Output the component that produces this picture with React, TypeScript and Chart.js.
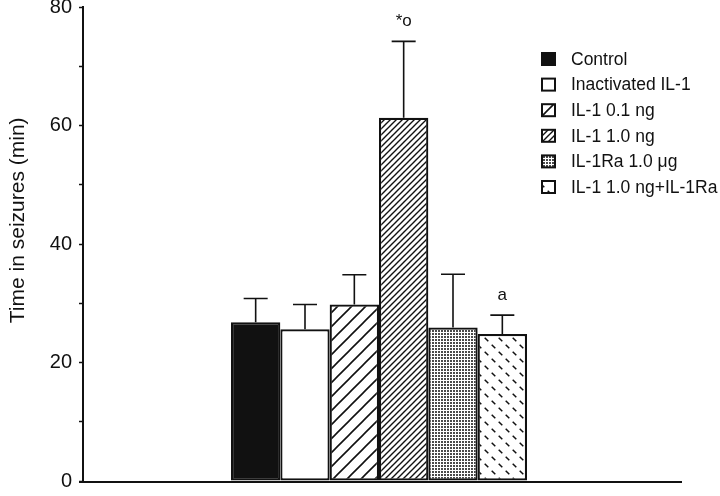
import React, { useEffect, useRef } from 'react';
import { Chart, registerables } from 'chart.js';

Chart.register(...registerables);

const categories = [''];
const seriesLabels = [
  'Control',
  'Inactivated IL-1',
  'IL-1 0.1 ng',
  'IL-1 1.0 ng',
  'IL-1Ra 1.0 \u03BCg',
  'IL-1 1.0 ng+IL-1Ra',
];
const seriesValues = [26.8, 25.6, 29.8, 61.3, 25.9, 24.8];
const seriesErrors = [4.0, 4.2, 5.0, 12.9, 9.0, 3.2];
const seriesMarks = ['', '', '', '*o', '', 'a'];
const seriesFills = ['solid', 'white', 'diagWide', 'diagDense', 'grid', 'dashes'];
const yMin = 0;
const yMax = 80;
const yStep = 10;
const yLabelStep = 20;
const yTitle = 'Time in seizures (min)';

const FONT = "'Liberation Sans', Arial, Helvetica, sans-serif";
const INK = '#111';

function makeFill(kind: string): string | CanvasPattern {
  if (kind === 'solid') return INK;
  if (kind === 'white') return '#ffffff';
  const c = document.createElement('canvas');
  let s = 10;
  if (kind === 'diagWide') s = 14;
  if (kind === 'diagDense') s = 6;
  if (kind === 'grid') s = 3;
  if (kind === 'dashes') s = 14;
  c.width = s;
  c.height = s;
  const g = c.getContext('2d')!;
  g.fillStyle = '#fff';
  g.fillRect(0, 0, s, s);
  g.strokeStyle = INK;
  g.fillStyle = INK;
  if (kind === 'diagWide' || kind === 'diagDense') {
    g.lineWidth = kind === 'diagWide' ? 1.6 : 1.4;
    g.beginPath();
    for (const o of [-s, 0, s]) {
      g.moveTo(o - 1, s + 1);
      g.lineTo(o + s + 1, -1);
    }
    g.stroke();
  } else if (kind === 'grid') {
    g.fillStyle = '#4a4a4a';
    g.fillRect(0, 0, 2, 2);
  } else if (kind === 'dashes') {
    g.lineWidth = 1.5;
    g.beginPath();
    const centers = [
      [3.5, 10.5],
      [10.5, 3.5],
    ];
    for (const [cx, cy] of centers) {
      g.moveTo(cx - 1.8, cy - 1.8);
      g.lineTo(cx + 1.8, cy + 1.8);
    }
    g.stroke();
  }
  return g.createPattern(c, 'repeat')!;
}

const overlayPlugin = {
  id: 'overlay',
  afterDatasetsDraw(chart: any) {
    const ctx = chart.ctx as CanvasRenderingContext2D;
    const y = chart.scales.y;
    const area = chart.chartArea;
    ctx.save();
    // baseline (x axis), running a little past the plot on the right as in the figure
    ctx.strokeStyle = INK;
    ctx.lineWidth = 2;
    ctx.beginPath();
    ctx.moveTo(area.left - 4, area.bottom + 1);
    ctx.lineTo(area.right + 7, area.bottom + 1);
    ctx.stroke();
    chart.data.datasets.forEach((ds: any, i: number) => {
      const meta = chart.getDatasetMeta(i);
      const bar = meta.data[0];
      if (!bar) return;
      const v = seriesValues[i];
      const e = seriesErrors[i];
      const top = y.getPixelForValue(v);
      const cap = y.getPixelForValue(v + e);
      ctx.strokeStyle = INK;
      ctx.lineWidth = 1.6;
      ctx.beginPath();
      ctx.moveTo(bar.x, top);
      ctx.lineTo(bar.x, cap);
      ctx.moveTo(bar.x - 12, cap);
      ctx.lineTo(bar.x + 12, cap);
      ctx.stroke();
      const mark = seriesMarks[i];
      if (mark) {
        ctx.fillStyle = INK;
        ctx.font = `17px ${FONT}`;
        ctx.textAlign = 'center';
        ctx.textBaseline = 'alphabetic';
        ctx.fillText(mark, bar.x, cap - 15);
      }
    });
    ctx.restore();
  },
  afterDraw(chart: any) {
    const ctx = chart.ctx as CanvasRenderingContext2D;
    const area = chart.chartArea;
    ctx.save();
    ctx.fillStyle = INK;
    ctx.font = `21px ${FONT}`;
    ctx.textAlign = 'center';
    ctx.textBaseline = 'middle';
    ctx.translate(18, area.top + (area.bottom - area.top) * 0.45);
    ctx.rotate(-Math.PI / 2);
    ctx.fillText(yTitle, 0, 0);
    ctx.restore();

    ctx.save();
    const boxX = 542;
    const firstY = area.top + 52;
    const rowH = 25.6;
    chart.data.datasets.forEach((ds: any, i: number) => {
      const cy = firstY + i * rowH;
      ctx.fillStyle = ds.backgroundColor;
      ctx.fillRect(boxX, cy - 6, 13, 12);
      ctx.strokeStyle = INK;
      ctx.lineWidth = 2;
      ctx.strokeRect(boxX, cy - 6, 13, 12);
      ctx.fillStyle = INK;
      ctx.font = `17.5px ${FONT}`;
      ctx.textAlign = 'left';
      ctx.textBaseline = 'middle';
      ctx.fillText(ds.label, boxX + 29, cy + 1);
    });
    ctx.restore();
  },
};

export default function App() {
  const ref = useRef<HTMLCanvasElement | null>(null);
  useEffect(() => {
    document.body.style.margin = '0';
    const canvas = ref.current;
    if (!canvas) return;
    const datasets = seriesLabels.map((label, i) => ({
      label,
      data: [seriesValues[i]],
      backgroundColor: makeFill(seriesFills[i]) as any,
      borderColor: INK,
      borderWidth: 2.2,
      borderSkipped: false as any,
      categoryPercentage: 0.5,
      barPercentage: 1.0,
    }));
    const chart = new Chart(canvas, {
      type: 'bar',
      data: { labels: categories, datasets },
      options: {
        responsive: false,
        animation: false,
        layout: { padding: { top: 7, right: 45, left: 0, bottom: 0 } },
        plugins: {
          legend: { display: false },
          tooltip: { enabled: false },
        },
        scales: {
          x: {
            grid: { display: false, drawTicks: false },
            ticks: { display: false },
            border: { display: false },
            afterFit: (s: any) => {
              s.height = 15;
              s.paddingLeft = 0;
              s.paddingRight = 0;
            },
          },
          y: {
            min: yMin,
            max: yMax,
            grid: {
              drawOnChartArea: false,
              drawTicks: true,
              tickLength: 4,
              tickWidth: 1.5,
              tickColor: INK,
            },
            border: { display: true, color: INK, width: 2 },
            ticks: {
              stepSize: yStep,
              padding: 7,
              color: INK,
              font: { family: FONT, size: 20 },
              callback: (v: any) => (Number(v) % yLabelStep === 0 ? String(v) : ''),
            },
            afterFit: (s: any) => {
              s.width = 83;
              s.paddingTop = 0;
              s.paddingBottom = 0;
            },
          },
        },
      },
      plugins: [overlayPlugin],
    });
    return () => chart.destroy();
  }, []);
  return (
    <div style={{ position: 'relative', width: 720, height: 496, background: '#fff' }}>
      <canvas ref={ref} width={720} height={496} style={{ display: 'block' }} />
    </div>
  );
}
